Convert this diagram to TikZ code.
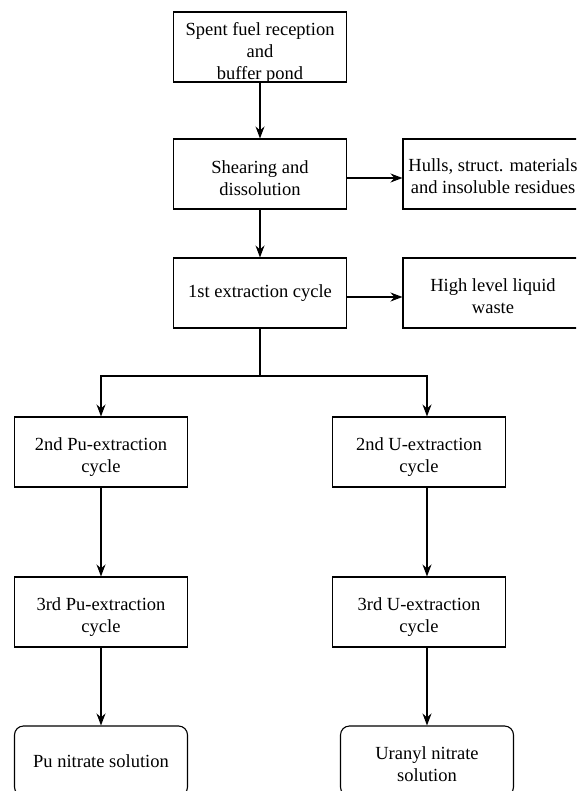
\documentclass[tikz,border=0pt]{standalone}
\usepackage{fontspec}
\newfontfamily\timesfont{Liberation Serif}
\usetikzlibrary{arrows.meta}
\begin{document}
\begin{tikzpicture}[x=1pt,y=-1pt,
  every node/.style={font=\timesfont\fontsize{18.5}{22}\selectfont},
  procbox/.style={draw,line width=1.1pt,minimum width=173pt,minimum height=70pt,align=center,inner sep=0pt},
  endbox/.style={procbox,rounded corners=9pt},
  lowtext/.style={align=center,inner sep=0pt,yshift=-4pt},
  flow/.style={line width=1.1pt,-{Stealth[length=12pt,width=9pt]}},
  plain/.style={line width=1.1pt}]
\useasboundingbox (0,0) rectangle (576,791);
\clip (0,0) rectangle (576,791);

% main column
\node[procbox,label={[lowtext,yshift=-2pt]center:{Spent fuel reception\\and\\buffer pond}}] (recep) at (260,47) {};
\node[procbox,label={[lowtext]center:{Shearing and\\dissolution}}] (shear) at (260,174) {};
\node[procbox] (ext1)  at (260,293) {1st extraction cycle};

% side products
\node[procbox,minimum width=180pt,label={[lowtext,yshift=2pt]center:{Hulls, struct. materials\\and insoluble residues}}] (hulls) at (493,174) {};
\node[procbox,minimum width=180pt,label={[lowtext,yshift=1pt]center:{High level liquid\\waste}}] (hlw) at (493,293) {};

% plutonium line
\node[procbox,label={[lowtext,yshift=-1pt]center:{2nd Pu-extraction\\cycle}}] (pu2) at (101,452) {};
\node[procbox,label={[lowtext,yshift=-1pt]center:{3rd Pu-extraction\\cycle}}] (pu3) at (101,612) {};
\node[endbox]  (puN) at (101,761) {Pu nitrate solution};

% uranium line
\node[procbox,label={[lowtext,yshift=-1pt]center:{2nd U-extraction\\cycle}}] (u2) at (419,452) {};
\node[procbox,label={[lowtext,yshift=-1pt]center:{3rd U-extraction\\cycle}}] (u3) at (419,612) {};
\node[endbox,label={[lowtext,yshift=1pt]center:{Uranyl nitrate\\solution}}] (uN) at (427,761) {};

\coordinate (split) at (260,376);
\coordinate (ucol)  at (427,376);

\draw[flow] (recep) -- (shear);
\draw[flow] ([yshift=-4pt]shear.east) -- ([yshift=-4pt]hulls.west);
\draw[flow] (shear) -- (ext1);
\draw[flow] ([yshift=-4pt]ext1.east) -- ([yshift=-4pt]hlw.west);
\draw[plain] (ext1.south) -- (split);
\draw[flow] (split) -| (pu2.north);
\draw[flow] (split) -| (u2.north -| ucol);
\draw[flow] (pu2) -- (pu3);
\draw[flow] (pu3) -- (puN);
\draw[flow] (u2.south -| ucol) -- (u3.north -| ucol);
\draw[flow] (u3.south -| ucol) -- (uN.north);
\end{tikzpicture}
\end{document}
